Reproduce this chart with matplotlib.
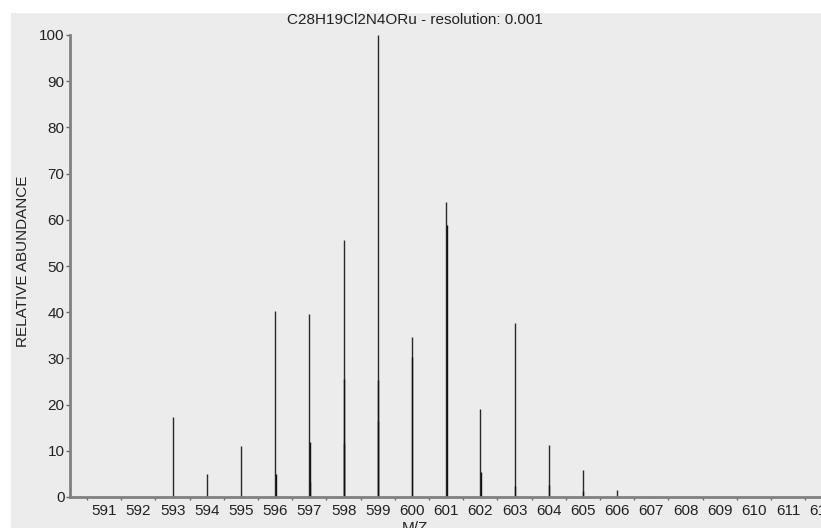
import matplotlib
matplotlib.use("Agg")
import matplotlib.pyplot as plt
from matplotlib.patches import Rectangle

# isotope pattern, strongest line of each nominal mass
masses = [593, 594, 595, 596, 597, 598, 599, 600, 601, 602, 603, 604, 605, 606, 607]
heights = [17.3, 5.0, 11.0, 40.3, 39.7, 55.6, 100.0, 34.6, 63.9, 19.1, 37.6, 11.2, 5.8, 1.6, 0.3]

# weaker fine-structure lines sitting next to the main ones
sub_masses = [596, 597, 597, 598, 598, 599, 599, 600, 601, 602, 603, 604, 605]
sub_heights = [5.0, 12.0, 3.3, 25.6, 11.7, 25.3, 16.4, 30.2, 58.9, 5.4, 2.4, 2.7, 1.4]

tick_values = list(range(591, 613))
title = "C28H19Cl2N4ORu - resolution: 0.001"

plt.rcParams['font.family'] = ['Liberation Sans', 'DejaVu Sans']
fs = 11

W, H = 821, 528
fig = plt.figure(figsize=(W / 100, H / 100), dpi=100)
fig.patch.set_facecolor("white")
fig.patches.append(Rectangle((11 / W, 0), 1, 1 - 13 / H, transform=fig.transFigure,
                             facecolor="#ececec", edgecolor="none", zorder=-10))

x0, x1 = 590.0, 613.0
px_per_unit = 34.2
ax_w = (x1 - x0) * px_per_unit
left = 70 / W
bottom = 1 - 497 / H
top = 1 - 35 / H
ax = fig.add_axes([left, bottom, ax_w / W, top - bottom])
ax.set_facecolor("none")

ax.vlines(masses, 0, heights, colors="#2a2a2a", linewidth=1.0)
ax.vlines([m + 0.012 for m in sub_masses], 0, sub_heights, colors="#111111", linewidth=1.0)

ax.set_xlim(x0, x1)
ax.set_ylim(0, 100)

for s in ["top", "right"]:
    ax.spines[s].set_visible(False)
for s in ["left", "bottom"]:
    ax.spines[s].set_color("#808080")
    ax.spines[s].set_linewidth(2.0)

ax.set_xticks(tick_values)
ax.set_xticklabels([str(v) for v in tick_values])
ax.set_xticks([v + 0.5 for v in range(590, 613)], minor=True)
ax.tick_params(axis="x", which="major", length=0, pad=5, labelsize=fs, labelcolor="#222222")
ax.tick_params(axis="x", which="minor", length=2.5, width=1, color="#666666")

ax.set_yticks(range(0, 101, 10))
ax.tick_params(axis="y", length=3, width=1, color="#666666", pad=1, labelsize=fs,
               labelcolor="#222222")

ax.set_xlabel("M/Z", fontsize=fs, color="#222222")
ax.xaxis.set_label_coords((415 - 70) / ax_w, -0.052)
ax.set_ylabel("RELATIVE ABUNDANCE", fontsize=fs, color="#222222")
ax.yaxis.set_label_coords(-40 / ax_w, 0.51)

fig.text(415 / W, 1 - 20 / H, title, ha="center", va="center", fontsize=fs, color="#222222")

fig.savefig("out.png", dpi=100)
